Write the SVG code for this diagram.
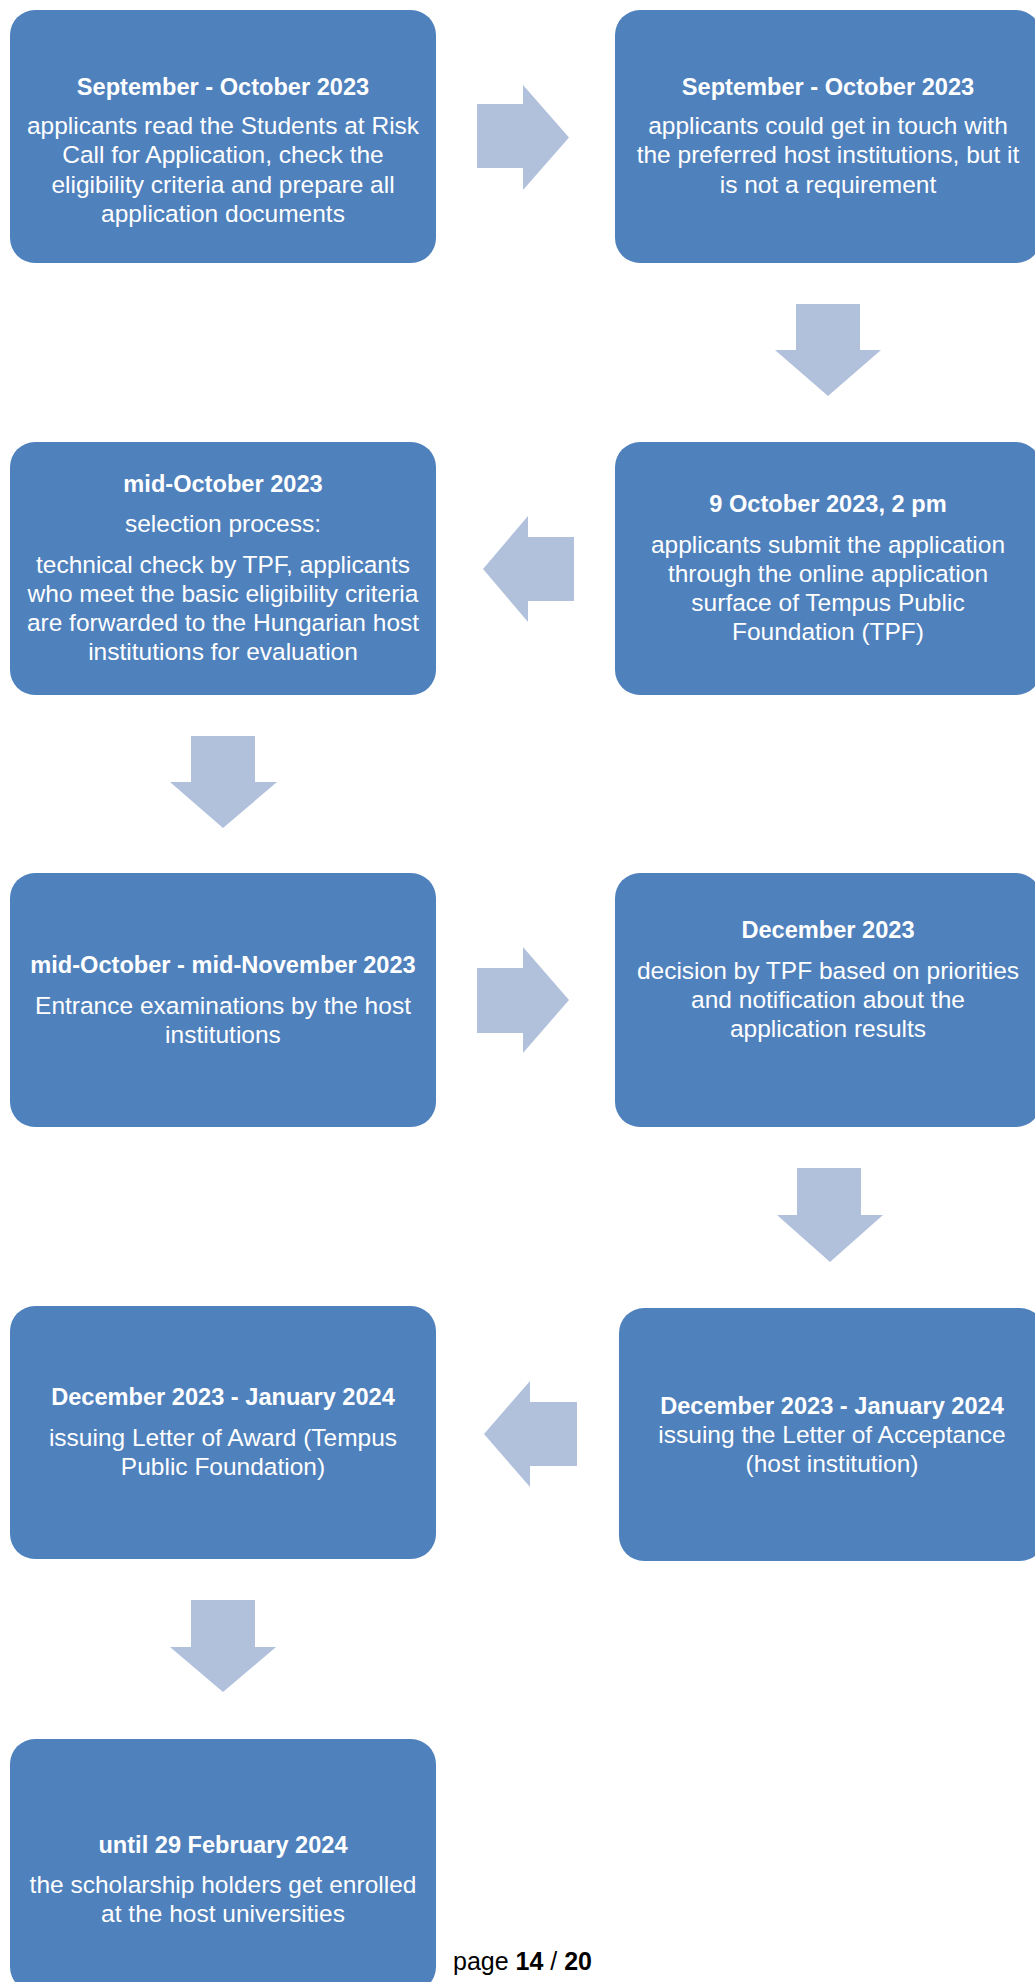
<svg xmlns="http://www.w3.org/2000/svg" width="1035" height="1982" viewBox="0 0 1035 1982">
<style>
.box{fill:#4F81BD}
.arr{fill:#B1C1DB}
text{font-family:"Liberation Sans",Arial,sans-serif;fill:#fff;text-anchor:middle}
.t{font-weight:bold;font-size:23.6px}
.b{font-size:24.5px}
.pg{fill:#000;text-anchor:start;font-size:25px}
</style>
<rect width="1035" height="1982" fill="#fff"/>
<g id="connectors">
<polygon class="arr" points="477,104 523,104 523,85 569,137.5 523,190 523,168 477,168"/>
<polygon class="arr" points="796,304 860,304 860,350 881,350 828,396 775,350 796,350"/>
<polygon class="arr" points="574,537 528,537 528,516 483,569 528,622 528,601 574,601"/>
<polygon class="arr" points="191,736 255,736 255,782 277,782 223,828 170,782 191,782"/>
<polygon class="arr" points="477,968 523,968 523,947 569,1000 523,1053 523,1033 477,1033"/>
<polygon class="arr" points="797,1168 861,1168 861,1215 883,1215 830,1262 777,1215 797,1215"/>
<polygon class="arr" points="577,1402 530,1402 530,1381 484,1434 530,1487 530,1466 577,1466"/>
<polygon class="arr" points="191,1600 255,1600 255,1647 276,1647 223,1692 170,1647 191,1647"/>
</g>
<g id="n1">
<rect class="box" x="10" y="10" width="426" height="253" rx="25"/>
<text class="t" x="223" y="95">September - October 2023</text>
<text class="b" x="223" y="134">applicants read the Students at Risk</text>
<text class="b" x="223" y="163.3">Call for Application, check the</text>
<text class="b" x="223" y="192.6">eligibility criteria and prepare all</text>
<text class="b" x="223" y="221.9">application documents</text>
</g>
<g id="n2">
<rect class="box" x="615" y="10" width="426" height="253" rx="25"/>
<text class="t" x="828" y="95">September - October 2023</text>
<text class="b" x="828" y="134">applicants could get in touch with</text>
<text class="b" x="828" y="163.3">the preferred host institutions, but it</text>
<text class="b" x="828" y="192.6">is not a requirement</text>
</g>
<g id="n3">
<rect class="box" x="615" y="442" width="426" height="253" rx="25"/>
<text class="t" x="828" y="511.5">9 October 2023, 2 pm</text>
<text class="b" x="828" y="552.5">applicants submit the application</text>
<text class="b" x="828" y="581.5">through the online application</text>
<text class="b" x="828" y="610.5">surface of Tempus Public</text>
<text class="b" x="828" y="639.5">Foundation (TPF)</text>
</g>
<g id="n4">
<rect class="box" x="10" y="442" width="426" height="253" rx="25"/>
<text class="t" x="223" y="491.5">mid-October 2023</text>
<text class="b" x="223" y="531.5">selection process:</text>
<text class="b" x="223" y="573">technical check by TPF, applicants</text>
<text class="b" x="223" y="602">who meet the basic eligibility criteria</text>
<text class="b" x="223" y="631">are forwarded to the Hungarian host</text>
<text class="b" x="223" y="660">institutions for evaluation</text>
</g>
<g id="n5">
<rect class="box" x="10" y="873" width="426" height="254" rx="25"/>
<text class="t" x="223" y="972.5">mid-October - mid-November 2023</text>
<text class="b" x="223" y="1014">Entrance examinations by the host</text>
<text class="b" x="223" y="1043">institutions</text>
</g>
<g id="n6">
<rect class="box" x="615" y="873" width="426" height="254" rx="25"/>
<text class="t" x="828" y="937.5">December 2023</text>
<text class="b" x="828" y="978.5">decision by TPF based on priorities</text>
<text class="b" x="828" y="1007.5">and notification about the</text>
<text class="b" x="828" y="1036.5">application results</text>
</g>
<g id="n7">
<rect class="box" x="619" y="1308" width="426" height="253" rx="25"/>
<text class="t" x="832" y="1414">December 2023 - January 2024</text>
<text class="b" x="832" y="1443">issuing the Letter of Acceptance</text>
<text class="b" x="832" y="1471.5">(host institution)</text>
</g>
<g id="n8">
<rect class="box" x="10" y="1306" width="426" height="253" rx="25"/>
<text class="t" x="223" y="1405">December 2023 - January 2024</text>
<text class="b" x="223" y="1446">issuing Letter of Award (Tempus</text>
<text class="b" x="223" y="1475">Public Foundation)</text>
</g>
<g id="n9">
<rect class="box" x="10" y="1739" width="426" height="253" rx="25"/>
<text class="t" x="223" y="1853">until 29 February 2024</text>
<text class="b" x="223" y="1893">the scholarship holders get enrolled</text>
<text class="b" x="223" y="1922">at the host universities</text>
</g>
<text class="pg" x="453" y="1970">page <tspan font-weight="bold">14</tspan> / <tspan font-weight="bold">20</tspan></text>
</svg>
